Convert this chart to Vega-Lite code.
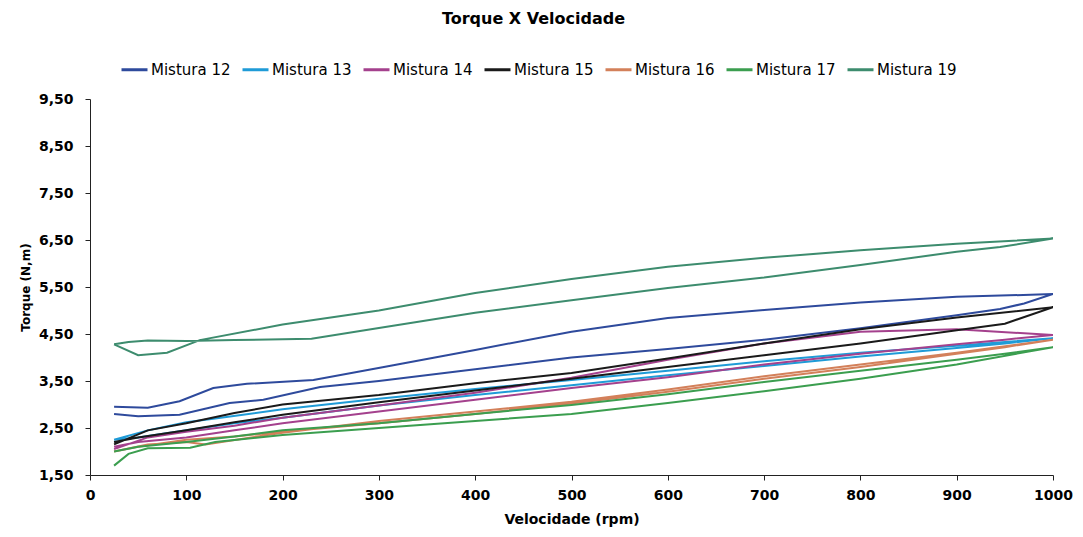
{
"$schema": "https://vega.github.io/schema/vega-lite/v6.json",
"width": 963, "height": 376, "autosize": "none",
"padding": {"left": 90, "top": 99, "right": 30, "bottom": 62},
"background": "white",
"title": {"text": "Torque X Velocidade", "font": "DejaVu Sans", "fontSize": 16, "fontWeight": "bold", "color": "black", "anchor": "middle", "frame": "group", "offset": 28, "dx": -38},
"config": {"view": {"stroke": null}, "axis": {"grid": false, "domainColor": "#222", "tickColor": "#222", "tickSize": 5, "labelColor": "black", "titleColor": "black", "labelFont": "DejaVu Sans", "labelFontWeight": "bold", "labelFontSize": 14, "titleFont": "DejaVu Sans", "titleFontWeight": "bold"}},
"data": {"values": [
{"s":"Mistura 12","o":0,"x":25,"y":2.95},{"s":"Mistura 12","o":1,"x":60,"y":2.93},{"s":"Mistura 12","o":2,"x":93,"y":3.07},{"s":"Mistura 12","o":3,"x":128,"y":3.35},{"s":"Mistura 12","o":4,"x":163,"y":3.44},{"s":"Mistura 12","o":5,"x":232,"y":3.52},{"s":"Mistura 12","o":6,"x":301,"y":3.78},{"s":"Mistura 12","o":7,"x":400,"y":4.16},{"s":"Mistura 12","o":8,"x":500,"y":4.55},{"s":"Mistura 12","o":9,"x":600,"y":4.84},{"s":"Mistura 12","o":10,"x":700,"y":5.01},{"s":"Mistura 12","o":11,"x":800,"y":5.17},{"s":"Mistura 12","o":12,"x":900,"y":5.29},{"s":"Mistura 12","o":13,"x":1000,"y":5.35},{"s":"Mistura 12","o":14,"x":970,"y":5.15},{"s":"Mistura 12","o":15,"x":945,"y":5.03},{"s":"Mistura 12","o":16,"x":900,"y":4.9},{"s":"Mistura 12","o":17,"x":800,"y":4.62},{"s":"Mistura 12","o":18,"x":700,"y":4.38},{"s":"Mistura 12","o":19,"x":600,"y":4.18},{"s":"Mistura 12","o":20,"x":500,"y":4.0},{"s":"Mistura 12","o":21,"x":400,"y":3.75},{"s":"Mistura 12","o":22,"x":300,"y":3.5},{"s":"Mistura 12","o":23,"x":239,"y":3.37},{"s":"Mistura 12","o":24,"x":180,"y":3.1},{"s":"Mistura 12","o":25,"x":145,"y":3.03},{"s":"Mistura 12","o":26,"x":93,"y":2.78},{"s":"Mistura 12","o":27,"x":50,"y":2.75},{"s":"Mistura 12","o":28,"x":25,"y":2.8},
{"s":"Mistura 13","o":0,"x":25,"y":2.25},{"s":"Mistura 13","o":1,"x":60,"y":2.45},{"s":"Mistura 13","o":2,"x":100,"y":2.62},{"s":"Mistura 13","o":3,"x":130,"y":2.7},{"s":"Mistura 13","o":4,"x":200,"y":2.9},{"s":"Mistura 13","o":5,"x":300,"y":3.12},{"s":"Mistura 13","o":6,"x":400,"y":3.33},{"s":"Mistura 13","o":7,"x":500,"y":3.52},{"s":"Mistura 13","o":8,"x":600,"y":3.72},{"s":"Mistura 13","o":9,"x":700,"y":3.92},{"s":"Mistura 13","o":10,"x":800,"y":4.1},{"s":"Mistura 13","o":11,"x":900,"y":4.25},{"s":"Mistura 13","o":12,"x":1000,"y":4.41},{"s":"Mistura 13","o":13,"x":950,"y":4.3},{"s":"Mistura 13","o":14,"x":900,"y":4.2},{"s":"Mistura 13","o":15,"x":800,"y":4.02},{"s":"Mistura 13","o":16,"x":700,"y":3.82},{"s":"Mistura 13","o":17,"x":600,"y":3.62},{"s":"Mistura 13","o":18,"x":500,"y":3.41},{"s":"Mistura 13","o":19,"x":400,"y":3.2},{"s":"Mistura 13","o":20,"x":300,"y":2.98},{"s":"Mistura 13","o":21,"x":200,"y":2.72},{"s":"Mistura 13","o":22,"x":150,"y":2.6},{"s":"Mistura 13","o":23,"x":100,"y":2.45},{"s":"Mistura 13","o":24,"x":50,"y":2.3},{"s":"Mistura 13","o":25,"x":25,"y":2.25},
{"s":"Mistura 14","o":0,"x":25,"y":2.05},{"s":"Mistura 14","o":1,"x":60,"y":2.3},{"s":"Mistura 14","o":2,"x":100,"y":2.42},{"s":"Mistura 14","o":3,"x":150,"y":2.55},{"s":"Mistura 14","o":4,"x":200,"y":2.72},{"s":"Mistura 14","o":5,"x":300,"y":2.98},{"s":"Mistura 14","o":6,"x":400,"y":3.25},{"s":"Mistura 14","o":7,"x":500,"y":3.57},{"s":"Mistura 14","o":8,"x":600,"y":3.95},{"s":"Mistura 14","o":9,"x":700,"y":4.3},{"s":"Mistura 14","o":10,"x":800,"y":4.55},{"s":"Mistura 14","o":11,"x":900,"y":4.6},{"s":"Mistura 14","o":12,"x":1000,"y":4.48},{"s":"Mistura 14","o":13,"x":950,"y":4.38},{"s":"Mistura 14","o":14,"x":900,"y":4.28},{"s":"Mistura 14","o":15,"x":800,"y":4.08},{"s":"Mistura 14","o":16,"x":700,"y":3.85},{"s":"Mistura 14","o":17,"x":600,"y":3.58},{"s":"Mistura 14","o":18,"x":500,"y":3.35},{"s":"Mistura 14","o":19,"x":400,"y":3.1},{"s":"Mistura 14","o":20,"x":300,"y":2.85},{"s":"Mistura 14","o":21,"x":200,"y":2.6},{"s":"Mistura 14","o":22,"x":150,"y":2.45},{"s":"Mistura 14","o":23,"x":100,"y":2.3},{"s":"Mistura 14","o":24,"x":50,"y":2.2},{"s":"Mistura 14","o":25,"x":25,"y":2.1},
{"s":"Mistura 15","o":0,"x":25,"y":2.15},{"s":"Mistura 15","o":1,"x":60,"y":2.45},{"s":"Mistura 15","o":2,"x":100,"y":2.6},{"s":"Mistura 15","o":3,"x":150,"y":2.82},{"s":"Mistura 15","o":4,"x":200,"y":3.0},{"s":"Mistura 15","o":5,"x":300,"y":3.2},{"s":"Mistura 15","o":6,"x":400,"y":3.45},{"s":"Mistura 15","o":7,"x":500,"y":3.67},{"s":"Mistura 15","o":8,"x":600,"y":3.98},{"s":"Mistura 15","o":9,"x":700,"y":4.3},{"s":"Mistura 15","o":10,"x":800,"y":4.6},{"s":"Mistura 15","o":11,"x":900,"y":4.85},{"s":"Mistura 15","o":12,"x":1000,"y":5.07},{"s":"Mistura 15","o":13,"x":950,"y":4.72},{"s":"Mistura 15","o":14,"x":900,"y":4.58},{"s":"Mistura 15","o":15,"x":800,"y":4.3},{"s":"Mistura 15","o":16,"x":700,"y":4.05},{"s":"Mistura 15","o":17,"x":600,"y":3.8},{"s":"Mistura 15","o":18,"x":500,"y":3.55},{"s":"Mistura 15","o":19,"x":400,"y":3.3},{"s":"Mistura 15","o":20,"x":300,"y":3.05},{"s":"Mistura 15","o":21,"x":200,"y":2.78},{"s":"Mistura 15","o":22,"x":150,"y":2.62},{"s":"Mistura 15","o":23,"x":100,"y":2.45},{"s":"Mistura 15","o":24,"x":50,"y":2.3},{"s":"Mistura 15","o":25,"x":25,"y":2.2},
{"s":"Mistura 16","o":0,"x":25,"y":2.0},{"s":"Mistura 16","o":1,"x":60,"y":2.15},{"s":"Mistura 16","o":2,"x":100,"y":2.2},{"s":"Mistura 16","o":3,"x":120,"y":2.15},{"s":"Mistura 16","o":4,"x":200,"y":2.4},{"s":"Mistura 16","o":5,"x":300,"y":2.65},{"s":"Mistura 16","o":6,"x":400,"y":2.85},{"s":"Mistura 16","o":7,"x":500,"y":3.06},{"s":"Mistura 16","o":8,"x":600,"y":3.32},{"s":"Mistura 16","o":9,"x":700,"y":3.6},{"s":"Mistura 16","o":10,"x":800,"y":3.85},{"s":"Mistura 16","o":11,"x":900,"y":4.1},{"s":"Mistura 16","o":12,"x":1000,"y":4.38},{"s":"Mistura 16","o":13,"x":950,"y":4.22},{"s":"Mistura 16","o":14,"x":900,"y":4.08},{"s":"Mistura 16","o":15,"x":800,"y":3.8},{"s":"Mistura 16","o":16,"x":700,"y":3.55},{"s":"Mistura 16","o":17,"x":600,"y":3.27},{"s":"Mistura 16","o":18,"x":500,"y":3.02},{"s":"Mistura 16","o":19,"x":400,"y":2.8},{"s":"Mistura 16","o":20,"x":300,"y":2.6},{"s":"Mistura 16","o":21,"x":200,"y":2.42},{"s":"Mistura 16","o":22,"x":150,"y":2.32},{"s":"Mistura 16","o":23,"x":100,"y":2.25},{"s":"Mistura 16","o":24,"x":50,"y":2.1},{"s":"Mistura 16","o":25,"x":25,"y":2.0},
{"s":"Mistura 17","o":0,"x":25,"y":1.7},{"s":"Mistura 17","o":1,"x":40,"y":1.95},{"s":"Mistura 17","o":2,"x":60,"y":2.07},{"s":"Mistura 17","o":3,"x":104,"y":2.08},{"s":"Mistura 17","o":4,"x":130,"y":2.2},{"s":"Mistura 17","o":5,"x":200,"y":2.35},{"s":"Mistura 17","o":6,"x":300,"y":2.5},{"s":"Mistura 17","o":7,"x":400,"y":2.65},{"s":"Mistura 17","o":8,"x":500,"y":2.8},{"s":"Mistura 17","o":9,"x":600,"y":3.03},{"s":"Mistura 17","o":10,"x":700,"y":3.28},{"s":"Mistura 17","o":11,"x":800,"y":3.55},{"s":"Mistura 17","o":12,"x":900,"y":3.85},{"s":"Mistura 17","o":13,"x":1000,"y":4.22},{"s":"Mistura 17","o":14,"x":950,"y":4.08},{"s":"Mistura 17","o":15,"x":900,"y":3.95},{"s":"Mistura 17","o":16,"x":800,"y":3.72},{"s":"Mistura 17","o":17,"x":700,"y":3.48},{"s":"Mistura 17","o":18,"x":600,"y":3.22},{"s":"Mistura 17","o":19,"x":500,"y":2.99},{"s":"Mistura 17","o":20,"x":400,"y":2.8},{"s":"Mistura 17","o":21,"x":300,"y":2.6},{"s":"Mistura 17","o":22,"x":200,"y":2.45},{"s":"Mistura 17","o":23,"x":150,"y":2.32},{"s":"Mistura 17","o":24,"x":100,"y":2.2},{"s":"Mistura 17","o":25,"x":50,"y":2.1},{"s":"Mistura 17","o":26,"x":25,"y":2.0},
{"s":"Mistura 19","o":0,"x":25,"y":4.28},{"s":"Mistura 19","o":1,"x":50,"y":4.05},{"s":"Mistura 19","o":2,"x":80,"y":4.1},{"s":"Mistura 19","o":3,"x":114,"y":4.37},{"s":"Mistura 19","o":4,"x":200,"y":4.7},{"s":"Mistura 19","o":5,"x":300,"y":5.0},{"s":"Mistura 19","o":6,"x":400,"y":5.37},{"s":"Mistura 19","o":7,"x":500,"y":5.67},{"s":"Mistura 19","o":8,"x":600,"y":5.93},{"s":"Mistura 19","o":9,"x":700,"y":6.12},{"s":"Mistura 19","o":10,"x":800,"y":6.28},{"s":"Mistura 19","o":11,"x":900,"y":6.42},{"s":"Mistura 19","o":12,"x":1000,"y":6.53},{"s":"Mistura 19","o":13,"x":945,"y":6.35},{"s":"Mistura 19","o":14,"x":900,"y":6.25},{"s":"Mistura 19","o":15,"x":800,"y":5.97},{"s":"Mistura 19","o":16,"x":700,"y":5.7},{"s":"Mistura 19","o":17,"x":600,"y":5.48},{"s":"Mistura 19","o":18,"x":500,"y":5.22},{"s":"Mistura 19","o":19,"x":400,"y":4.95},{"s":"Mistura 19","o":20,"x":300,"y":4.63},{"s":"Mistura 19","o":21,"x":230,"y":4.4},{"s":"Mistura 19","o":22,"x":150,"y":4.37},{"s":"Mistura 19","o":23,"x":100,"y":4.35},{"s":"Mistura 19","o":24,"x":60,"y":4.36},{"s":"Mistura 19","o":25,"x":40,"y":4.33},{"s":"Mistura 19","o":26,"x":25,"y":4.28}
]},
"mark": {"type": "line", "strokeWidth": 2, "clip": true},
"encoding": {
"x": {"field": "x", "type": "quantitative", "scale": {"domain": [0, 1000], "nice": false}, "axis": {"values": [0,100,200,300,400,500,600,700,800,900,1000], "format": "d", "labelPadding": 8, "title": "Velocidade (rpm)", "titleFontSize": 14, "titlePadding": 10, "labelFlush": false}},
"y": {"field": "y", "type": "quantitative", "scale": {"domain": [1.5, 9.5], "nice": false, "zero": false}, "axis": {"values": [1.5,2.5,3.5,4.5,5.5,6.5,7.5,8.5,9.5], "labelExpr": "replace(format(datum.value,'.2f'),'.',',')", "labelPadding": 12, "title": "Torque (N,m)", "titleFontSize": 12, "titlePadding": 6, "labelFlush": false}},
"color": {"field": "s", "type": "nominal", "scale": {"domain": ["Mistura 12","Mistura 13","Mistura 14","Mistura 15","Mistura 16","Mistura 17","Mistura 19"], "range": ["#2e4a9c","#1f9bd7","#a4418d","#1a1a1a","#d3805a","#3b9e4f","#3d8c6e"]}, "legend": {"title": null, "orient": "none", "legendX": 30, "legendY": -44, "direction": "horizontal", "symbolType": "stroke", "symbolSize": 676, "symbolStrokeWidth": 3, "labelFont": "DejaVu Sans", "labelFontSize": 15, "labelColor": "black", "labelOffset": 2, "columnPadding": 5}},
"order": {"field": "o", "type": "quantitative"}
}
}
